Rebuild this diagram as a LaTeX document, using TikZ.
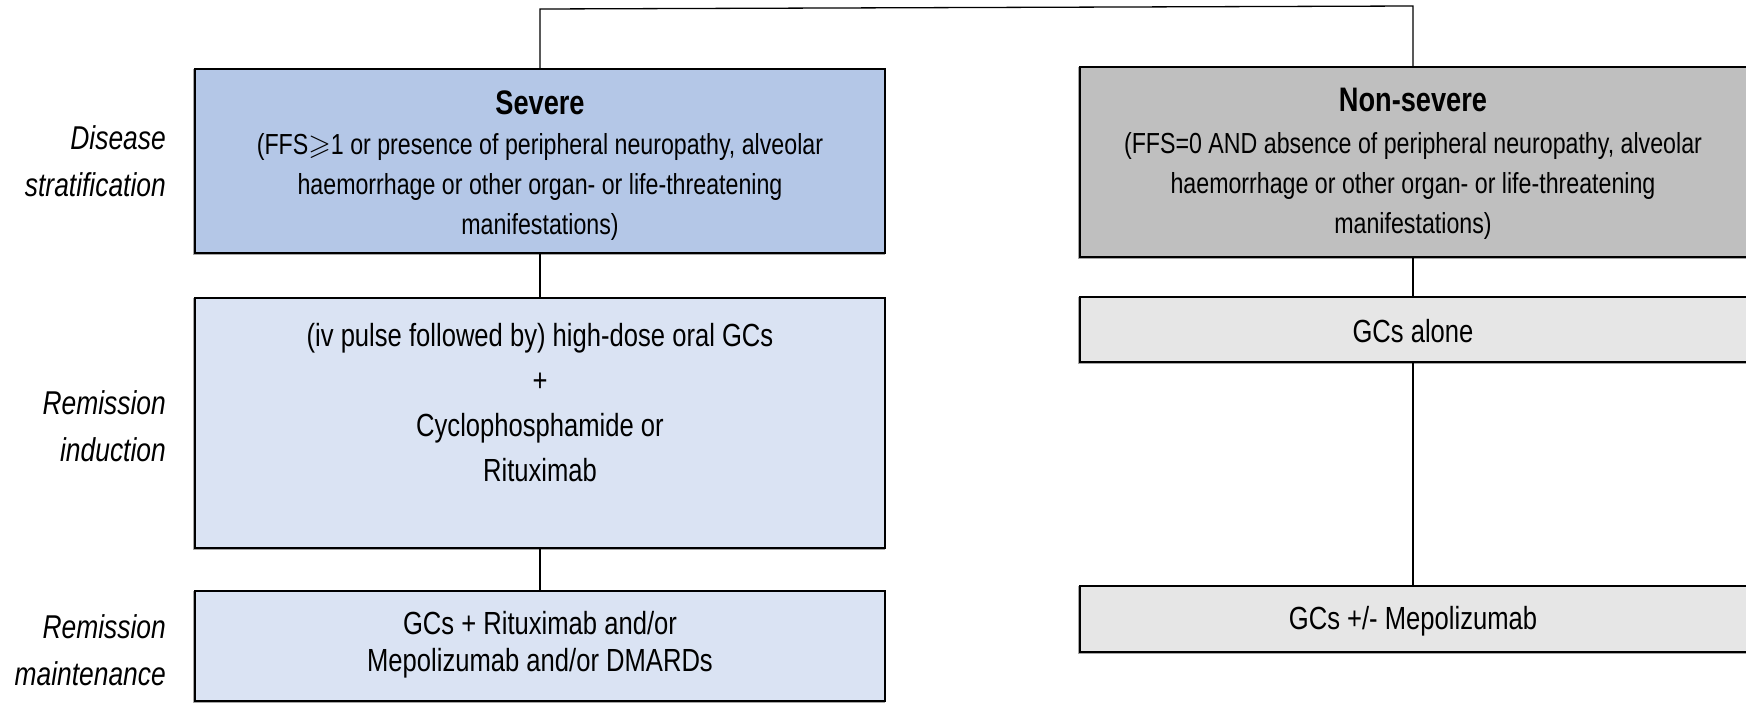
\documentclass[tikz,border=0pt]{standalone}
\usepackage{amssymb}
\usepackage{fontspec}
\setmainfont{Liberation Sans}[FakeStretch=0.8]
\definecolor{sevfill}{RGB}{180,199,231}
\definecolor{sevlight}{RGB}{218,227,243}
\definecolor{nsfill}{RGB}{191,191,191}
\definecolor{nslight}{RGB}{230,230,230}
\begin{document}
\begin{tikzpicture}[x=1pt,y=-1pt,
  box/.style={draw=black,line width=2pt,inner sep=0pt,outer sep=0pt,
    preaction={draw=black!35,line width=2pt,transform canvas={xshift=-1.2pt,yshift=-1.2pt}}},
  conn/.style={draw=black,line width=1.3pt},
  lbl/.style={anchor=east,align=right,inner sep=0pt,font=\fontsize{33}{47}\selectfont\itshape},
  ttl/.style={inner sep=0pt,font=\fontsize{34}{40}\selectfont\bfseries},
  desc/.style={align=center,inner sep=0pt,font=\fontsize{29}{40}\selectfont},
  body/.style={align=center,inner sep=0pt,font=\fontsize{32}{45}\selectfont}]
\useasboundingbox (0,0) rectangle (1746,702);
\fill[white] (0,0) rectangle (1746,702);
\clip (0,0) rectangle (1746,702);
% boxes
\node[box,fill=sevfill,minimum width=690pt,minimum height=184pt] (sev) at (540,161) {};
\node[box,fill=sevlight,minimum width=690pt,minimum height=250pt] (ind) at (540,423) {};
\node[box,fill=sevlight,minimum width=690pt,minimum height=110pt] (maint) at (540,646) {};
\node[box,fill=nsfill,minimum width=668pt,minimum height=190pt] (nsev) at (1414,162) {};
\node[box,fill=nslight,minimum width=668pt,minimum height=65pt] (alone) at (1414,329.5) {};
\node[box,fill=nslight,minimum width=668pt,minimum height=66pt] (mepo) at (1414,619) {};
% connectors
\coordinate (tl) at (540,9);
\coordinate (tr) at (1413,6);
\draw[conn] (sev.north) -- (tl) -- (tr) -- (tr |- nsev.north);
\draw[conn] (sev.south) -- (ind.north);
\draw[conn] (ind.south) -- (maint.north);
\draw[conn] (nsev.south -| tr) -- (tr |- alone.north);
\draw[conn] (alone.south -| tr) -- (tr |- mepo.north);
% texts
\node[ttl] (sevt) at (540,103) {Severe};
\node[desc] (sevd) at (540,187) {(FFS$\geqslant$1 or presence of peripheral neuropathy, alveolar\\haemorrhage or other organ- or life-threatening\\manifestations)};
\node[ttl] (nsevt) at (1413,100) {Non-severe};
\node[desc] (nsevd) at (1413,186) {(FFS=0 AND absence of peripheral neuropathy, alveolar\\haemorrhage or other organ- or life-threatening\\manifestations)};
\node[body] (indt) at (540,403) {(iv pulse followed by) high-dose oral GCs\\+\\Cyclophosphamide or\\Rituximab};
\node[body,font=\fontsize{32}{37}\selectfont] (maintt) at (540,645) {GCs + Rituximab and/or\\Mepolizumab and/or DMARDs};
\node[body] (alonet) at (1413,331) {GCs alone};
\node[body] (mepot) at (1413,621) {GCs +/- Mepolizumab};
% stage labels
\node[lbl] (l1) at (166,161.5) {Disease\\stratification};
\node[lbl] (l2) at (166,426) {Remission\\induction};
\node[lbl] (l3) at (166,650) {Remission\\maintenance};
\end{tikzpicture}
\end{document}
